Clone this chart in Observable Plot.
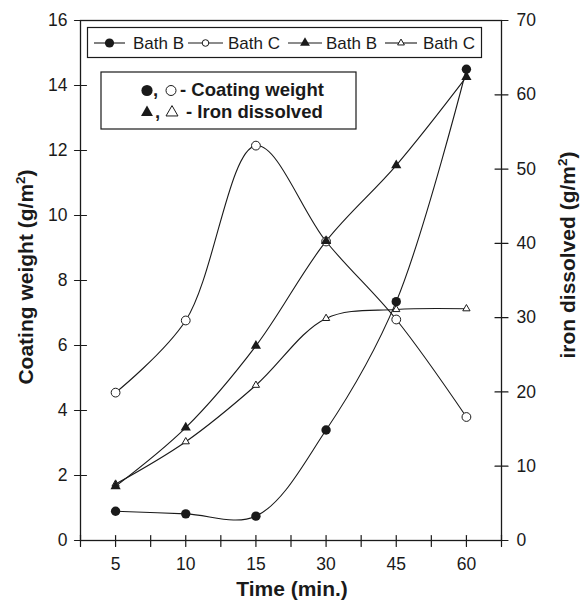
<!DOCTYPE html>
<html><head><meta charset="utf-8">
<script src="https://cdn.jsdelivr.net/npm/d3@7"></script>
<script src="https://cdn.jsdelivr.net/npm/@observablehq/plot@0.6"></script>
<style>
html,body{margin:0;padding:0;background:#fff;}
#chart{position:relative;width:582px;height:600px;font-family:"Liberation Sans",Arial,sans-serif;}
#chart svg{position:absolute;left:0;top:0;}
</style></head><body><div id="chart"></div>
<script>
// ---- data ----
const time = ["5", "10", "15", "30", "45", "60"];
const coatingB = [0.9, 0.82, 0.75, 3.4, 7.35, 14.5];   // g/m2, filled circles
const coatingC = [4.55, 6.77, 12.15, 9.2, 6.8, 3.8];   // g/m2, open circles
const ironB = [7.3, 15.2, 26.2, 40.3, 50.5, 62.4];     // iron dissolved, filled triangles
const ironC = [7.6, 13.3, 20.9, 29.9, 31.1, 31.2];     // iron dissolved, open triangles
const leftTicks = [0, 2, 4, 6, 8, 10, 12, 14, 16];
const rightTicks = [0, 10, 20, 30, 40, 50, 60, 70];
const legendNames = ["Bath B", "Bath C", "Bath B", "Bath C"];
const xTitle = "Time (min.)";
const leftTitle = "Coating weight (g/m";
const rightTitle = "iron dissolved (g/m";
const noteCoating = "- Coating weight";
const noteIron = "- Iron dissolved";

const ink = "#1a1a1a";
const W = 582, H = 600;
const leftMax = 16, rightMax = 70, k = leftMax / rightMax;
const idx = d3.range(time.length);
const xTickPos = d3.range(-0.5, time.length, 0.5);   // ticks at every category and between them
const rows = (vals, s = 1) => idx.map(i => ({i, v: vals[i] * s}));
const cB = rows(coatingB), cC = rows(coatingC), iB = rows(ironB, k), iC = rows(ironC, k);
const font = '"Liberation Sans", Arial, sans-serif';
const lineOpts = {x: "i", y: "v", curve: "catmull-rom", stroke: ink, strokeWidth: 1.1};
// a straight tick segment for the vector mark (crossing the axis when anchored in the middle)
const tickShape = {draw(ctx, l) { ctx.moveTo(0, 0); ctx.lineTo(0, -l); }};
const tickFont = 17.5;

const plot = Plot.plot({
  width: W, height: H,
  marginLeft: 80, marginRight: 81, marginTop: 20, marginBottom: 60,
  style: {fontFamily: font, fontSize: tickFont + "px", color: ink, background: "white"},
  x: {domain: [-0.5, time.length - 0.5]},
  y: {domain: [0, leftMax]},
  marks: [
    Plot.frame({stroke: ink, strokeWidth: 1.3}),
    Plot.vector(xTickPos, {x: d => d, frameAnchor: "bottom", length: 11, anchor: "middle", dy: 0.5, shape: tickShape, stroke: ink, strokeWidth: 1.2}),
    Plot.vector(leftTicks, {y: d => d, frameAnchor: "left", rotate: 90, length: 12, anchor: "middle", shape: tickShape, stroke: ink, strokeWidth: 1.2}),
    Plot.vector(rightTicks, {y: d => d * k, frameAnchor: "right", rotate: 90, length: 13, anchor: "middle", shape: tickShape, stroke: ink, strokeWidth: 1.2}),
    Plot.axisX(idx, {tickSize: 0, tickPadding: 17, tickFormat: i => time[i], label: null, fontSize: tickFont, fill: ink}),
    Plot.axisY(leftTicks, {anchor: "left", tickSize: 0, tickPadding: 13, label: null, fontSize: tickFont, fill: ink}),
    Plot.axisY(rightTicks.map(t => t * k), {anchor: "right", tickSize: 0, tickPadding: 15, tickFormat: d => Math.round(d / k), label: null, fontSize: tickFont, fill: ink}),
    Plot.lineY(cB, lineOpts),
    Plot.lineY(cC, lineOpts),
    Plot.lineY(iB, lineOpts),
    Plot.lineY(iC, lineOpts),
    Plot.dot(iC, {x: "i", y: "v", symbol: "triangle", r: 2.7, fill: "white", stroke: ink, strokeWidth: 1}),
    Plot.dot(cC, {x: "i", y: "v", r: 4.4, fill: "white", stroke: ink, strokeWidth: 1}),
    Plot.dot(iB, {x: "i", y: "v", symbol: "triangle", r: 3.8, fill: ink}),
    Plot.dot(cB, {x: "i", y: "v", r: 4.7, fill: ink})
  ]
});
document.getElementById("chart").appendChild(plot);

// ---- overlay: titles and legends ----
const ov = d3.select("#chart").append("svg").attr("width", W).attr("height", H)
  .style("font-family", font).style("pointer-events", "none");

function title(x, y, rot, txt, sup) {
  const t = ov.append("text").attr("transform", `translate(${x},${y}) rotate(${rot})`)
    .attr("text-anchor", "middle").attr("font-weight", "bold").attr("font-size", 21).attr("fill", ink);
  t.append("tspan").text(txt);
  if (sup) {
    t.append("tspan").attr("dy", -8.5).attr("font-size", 13.5).text("2");
    t.append("tspan").attr("dy", 8.5).text(")");
  }
}
title(33, 277, -90, leftTitle, true);
title(575, 255, -90, rightTitle, true);
title(292, 596, 0, xTitle, false);

const tri = s => d3.symbol(d3.symbolTriangle, s)();
function marker(g, kind, cx, cy, size) {
  if (kind === "fc") g.append("circle").attr("cx", cx).attr("cy", cy).attr("r", size).attr("fill", ink);
  if (kind === "oc") g.append("circle").attr("cx", cx).attr("cy", cy).attr("r", size).attr("fill", "white").attr("stroke", ink).attr("stroke-width", 1);
  if (kind === "ft") g.append("path").attr("d", tri(size)).attr("transform", `translate(${cx},${cy})`).attr("fill", ink);
  if (kind === "ot") g.append("path").attr("d", tri(size)).attr("transform", `translate(${cx},${cy})`).attr("fill", "white").attr("stroke", ink).attr("stroke-width", 1);
}

// legend 1
const l1 = ov.append("g");
l1.append("rect").attr("x", 87.5).attr("y", 27.5).attr("width", 394).attr("height", 30)
  .attr("fill", "white").attr("stroke", ink).attr("stroke-width", 1.2);
const l1items = [
  {x0: 94, x1: 125, kind: "fc", size: 4.6, tx: 133},
  {x0: 188, x1: 223, kind: "oc", size: 3.3, tx: 228},
  {x0: 288, x1: 322, kind: "ft", size: 42, tx: 326},
  {x0: 385, x1: 417, kind: "ot", size: 20, tx: 423}
];
l1items.forEach((d, j) => {
  l1.append("line").attr("x1", d.x0).attr("x2", d.x1).attr("y1", 43).attr("y2", 43).attr("stroke", ink).attr("stroke-width", 1.1);
  marker(l1, d.kind, (d.x0 + d.x1) / 2, 43, d.size);
  l1.append("text").attr("x", d.tx).attr("y", 48.5).attr("font-size", 17).attr("fill", ink).text(legendNames[j]);
});

// legend 2
const l2 = ov.append("g");
l2.append("rect").attr("x", 101).attr("y", 72).attr("width", 255).attr("height", 57)
  .attr("fill", "white").attr("stroke", ink).attr("stroke-width", 1.2);
marker(l2, "fc", 147, 90.5, 5.6);
marker(l2, "oc", 171, 90.5, 5);
marker(l2, "ft", 147, 112.5, 62);
marker(l2, "ot", 172, 112.5, 62);
l2.append("text").attr("x", 153).attr("y", 96).attr("font-size", 18.5).attr("font-weight", "bold").attr("fill", ink).text(",");
l2.append("text").attr("x", 180).attr("y", 96).attr("font-size", 18.5).attr("font-weight", "bold").attr("fill", ink).text(noteCoating);
l2.append("text").attr("x", 155).attr("y", 118).attr("font-size", 18.5).attr("font-weight", "bold").attr("fill", ink).text(",");
l2.append("text").attr("x", 186).attr("y", 118).attr("font-size", 18.5).attr("font-weight", "bold").attr("fill", ink).text(noteIron);
</script></body></html>
